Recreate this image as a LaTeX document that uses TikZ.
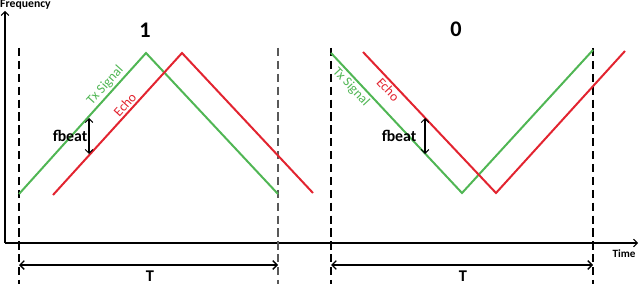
\documentclass[tikz,border=0pt]{standalone}
\usepackage{fontspec}
\setmainfont{Carlito}
\usepackage{tikz}
\usetikzlibrary{arrows.meta}
\usepackage{xcolor}
\definecolor{txgreen}{RGB}{80,182,84}
\definecolor{echored}{RGB}{226,36,48}

\begin{document}
\begin{tikzpicture}[x=0.03cm, y=-0.03cm, >={Straight Barb[]},
    marker/.style={line width=0.9pt, dash pattern=on 7pt off 4pt},
    ramp/.style={line width=1.7pt, line join=miter},
    sig/.style={font=\fontsize{11.5}{11.5}\selectfont, inner sep=1.5pt}]
        \useasboundingbox (0,0) rectangle (640,284);
        \def\Ax{19} \def\Bx{278} \def\Cx{331} \def\Dx{593}

        % axes
        \coordinate (O) at (5,243);
        \coordinate (Ytop) at (5,11);
        \coordinate (Xend) at (638,243);
        \draw[->, line width=0.9pt] (O) -- (Ytop);
        \draw[->, line width=0.9pt] (O) -- (Xend);
        \node[font=\fontsize{10}{10}\bfseries\selectfont, anchor=west, inner sep=0pt] (freq) at (0,5) {Frequency};
        \node[font=\fontsize{9.5}{9.5}\bfseries\selectfont] (time) at (624,254) {Time};

        % period markers
        \draw[marker] (\Ax,48) -- (\Ax,284);
        \draw[marker, black!65] (\Bx,48) -- (\Bx,284);
        \draw[marker] (\Cx,48) -- (\Cx,284);
        \draw[marker] (\Dx,48) -- (\Dx,284);

        % bit 1: up then down
        \node[font=\fontsize{19}{19}\bfseries\selectfont] (one) at (145,30) {1};
        \coordinate (g1a) at (\Ax,194); \coordinate (g1b) at (146,53); \coordinate (g1c) at (\Bx,194);
        \coordinate (r1a) at (53,195); \coordinate (r1b) at (182,53); \coordinate (r1c) at (313,193);
        \draw[ramp, txgreen] (g1a) -- node[sig, pos=0.73, sloped, above]{Tx Signal} (g1b) -- (g1c);
        \draw[ramp, echored] (r1a) -- node[sig, pos=0.6, sloped, above]{Echo} (r1b) -- (r1c);
        \coordinate (f1a) at (89,118); \coordinate (f1b) at (89,154);
        \draw[<->, line width=0.9pt] (f1a) -- node[left, inner sep=1pt, font=\fontsize{13.5}{14}\bfseries\selectfont]{fbeat} (f1b);

        % bit 0: down then up
        \node[font=\fontsize{19}{19}\bfseries\selectfont] (zero) at (456,29) {0};
        \coordinate (g0a) at (\Cx,53); \coordinate (g0b) at (462,193); \coordinate (g0c) at (\Dx,50);
        \coordinate (r0a) at (363,52); \coordinate (r0b) at (496,193); \coordinate (r0c) at (625,51);
        \draw[ramp, txgreen] (g0a) -- node[sig, pos=0.2, sloped, below]{Tx Signal} (g0b) -- (g0c);
        \draw[ramp, echored] (r0a) -- node[sig, pos=0.23, sloped, below]{Echo} (r0b) -- (r0c);
        \coordinate (f0a) at (425,118); \coordinate (f0b) at (425,154);
        \draw[<->, line width=0.9pt] (f0a) -- node[left=6pt, inner sep=1pt, font=\fontsize{13.5}{14}\bfseries\selectfont]{fbeat} (f0b);

        % periods
        \coordinate (t1a) at (\Ax,265); \coordinate (t1b) at (\Bx,265);
        \coordinate (t0a) at (\Cx,265); \coordinate (t0b) at (\Dx,265);
        \draw[<->, line width=1.1pt] (t1a) -- (t1b);
        \draw[<->, line width=1.1pt] (t0a) -- (t0b);
        \node[font=\fontsize{14}{14}\bfseries\selectfont, anchor=north, inner sep=1pt] (T1) at (150,269) {T};
        \node[font=\fontsize{14}{14}\bfseries\selectfont, anchor=north, inner sep=1pt] (T0) at (463,269) {T};
    \end{tikzpicture}
\end{document}
